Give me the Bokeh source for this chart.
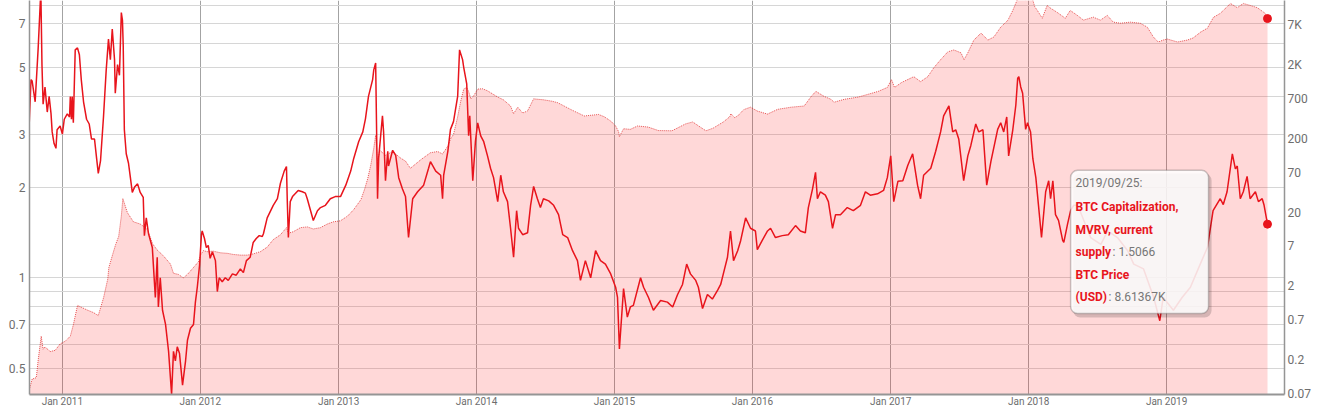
import pandas as pd
from bokeh.plotting import figure
from bokeh.models import (Range1d, LogScale, LogAxis, FixedTicker, CustomJSTickFormatter,
                          DatetimeTickFormatter, BoxAnnotation, Label, ColumnDataSource)
from bokeh.embed import file_html
from bokeh.resources import INLINE

# ---------------- data ----------------
mvrv_dates = [
    "2010-10-05", "2010-10-10", "2010-10-13", "2010-10-21", "2010-10-29", "2010-11-05", "2010-11-08",
    "2010-11-11", "2010-11-16", "2010-11-22", "2010-11-27", "2010-12-02", "2010-12-05", "2010-12-10",
    "2010-12-15", "2010-12-18", "2010-12-26",
    "2011-01-01", "2011-01-06", "2011-01-14", "2011-01-20", "2011-01-22", "2011-01-25", "2011-01-27",
    "2011-01-30", "2011-02-04", "2011-02-10", "2011-02-15", "2011-02-20", "2011-02-26", "2011-03-06",
    "2011-03-13", "2011-03-19", "2011-03-27", "2011-04-01", "2011-04-06", "2011-04-12", "2011-04-20",
    "2011-04-27", "2011-05-03", "2011-05-08", "2011-05-13", "2011-05-19", "2011-05-21", "2011-05-27",
    "2011-06-01", "2011-06-06", "2011-06-09", "2011-06-11", "2011-06-14", "2011-06-19", "2011-06-25",
    "2011-06-30", "2011-07-05", "2011-07-11", "2011-07-19", "2011-07-26", "2011-08-03", "2011-08-06",
    "2011-08-11", "2011-08-17", "2011-08-27", "2011-09-04", "2011-09-09", "2011-09-12", "2011-09-17",
    "2011-09-23", "2011-10-01", "2011-10-09", "2011-10-17", "2011-10-22", "2011-10-27", "2011-11-01",
    "2011-11-07", "2011-11-15", "2011-11-23", "2011-11-28", "2011-12-06", "2011-12-14", "2011-12-19",
    "2011-12-24", "2011-12-30",
    "2012-01-04", "2012-01-06", "2012-01-12", "2012-01-17", "2012-01-22", "2012-01-27", "2012-02-02",
    "2012-02-10", "2012-02-15", "2012-02-20", "2012-02-28", "2012-03-07", "2012-03-15", "2012-03-26",
    "2012-04-05", "2012-04-16", "2012-04-24", "2012-05-02", "2012-05-12", "2012-05-20", "2012-05-28",
    "2012-06-05", "2012-06-13", "2012-06-16", "2012-06-26", "2012-07-12", "2012-07-23", "2012-07-31",
    "2012-08-10", "2012-08-16", "2012-08-18", "2012-08-21", "2012-08-26", "2012-09-01", "2012-09-16",
    "2012-09-27", "2012-10-05", "2012-10-10", "2012-10-26", "2012-11-06", "2012-11-14", "2012-11-27",
    "2012-12-10", "2012-12-23",
    "2013-01-06", "2013-01-20", "2013-02-02", "2013-02-10", "2013-02-23", "2013-03-06", "2013-03-13",
    "2013-03-21", "2013-04-01", "2013-04-04", "2013-04-09", "2013-04-14", "2013-04-17", "2013-04-27",
    "2013-04-30", "2013-05-05", "2013-05-11", "2013-05-13", "2013-05-24", "2013-06-01", "2013-06-09",
    "2013-06-19", "2013-06-27", "2013-07-05", "2013-07-16", "2013-07-29", "2013-08-14", "2013-08-27",
    "2013-09-01", "2013-09-15", "2013-09-28", "2013-10-03", "2013-10-06", "2013-10-17", "2013-10-24",
    "2013-11-01", "2013-11-12", "2013-11-17", "2013-11-25", "2013-11-28", "2013-12-06", "2013-12-11",
    "2013-12-14", "2013-12-22", "2013-12-29",
    "2014-01-04", "2014-01-12", "2014-01-20", "2014-01-30", "2014-02-07", "2014-02-15", "2014-02-26",
    "2014-03-06", "2014-03-13", "2014-03-24", "2014-04-01", "2014-04-09", "2014-04-17", "2014-04-22",
    "2014-05-03", "2014-05-16", "2014-05-24", "2014-06-01", "2014-06-11", "2014-06-19", "2014-06-27",
    "2014-07-11", "2014-07-24", "2014-08-06", "2014-08-17", "2014-08-30", "2014-09-12", "2014-09-25",
    "2014-10-03", "2014-10-16", "2014-10-30", "2014-11-12", "2014-11-25", "2014-12-08", "2014-12-22",
    "2015-01-04", "2015-01-09", "2015-01-14", "2015-01-25", "2015-02-04", "2015-02-12", "2015-02-20",
    "2015-03-11", "2015-03-19", "2015-04-01", "2015-04-14", "2015-05-03", "2015-05-21", "2015-06-04",
    "2015-06-17", "2015-06-30", "2015-07-11", "2015-07-21", "2015-08-04", "2015-08-11", "2015-08-22",
    "2015-09-04", "2015-09-17", "2015-10-01", "2015-10-09", "2015-10-16", "2015-10-27", "2015-11-04",
    "2015-11-12", "2015-11-23", "2015-12-01", "2015-12-14", "2015-12-27",
    "2016-01-09", "2016-01-14", "2016-01-27", "2016-02-10", "2016-02-18", "2016-03-02", "2016-03-20",
    "2016-04-05", "2016-04-24", "2016-05-07", "2016-05-20", "2016-05-28", "2016-06-08", "2016-06-16",
    "2016-06-21", "2016-06-29", "2016-07-12", "2016-07-20", "2016-07-31", "2016-08-08", "2016-08-21",
    "2016-09-08", "2016-09-24", "2016-10-13", "2016-10-26", "2016-11-08", "2016-11-27", "2016-12-13",
    "2016-12-23",
    "2017-01-01", "2017-01-09", "2017-01-20", "2017-02-02", "2017-02-15", "2017-02-28", "2017-03-13",
    "2017-03-21", "2017-03-29", "2017-04-17", "2017-04-30", "2017-05-13", "2017-05-21", "2017-06-04",
    "2017-06-14", "2017-06-22", "2017-06-30", "2017-07-13", "2017-07-24", "2017-08-01", "2017-08-14",
    "2017-08-22", "2017-09-02", "2017-09-12", "2017-09-23", "2017-10-11", "2017-10-19", "2017-10-27",
    "2017-11-04", "2017-11-09", "2017-11-20", "2017-11-28", "2017-12-03", "2017-12-06", "2017-12-11",
    "2017-12-16", "2017-12-24", "2017-12-29",
    "2018-01-06", "2018-01-12", "2018-01-20", "2018-01-27", "2018-02-04", "2018-02-15", "2018-02-23",
    "2018-02-28", "2018-03-06", "2018-03-13", "2018-03-21", "2018-04-01", "2018-04-04", "2018-04-14",
    "2018-04-22", "2018-04-30", "2018-05-11", "2018-05-27", "2018-06-14", "2018-07-11", "2018-07-29",
    "2018-08-24", "2018-09-20", "2018-10-06", "2018-11-01", "2018-11-28", "2018-12-09", "2018-12-14",
    "2018-12-23",
    "2019-01-19", "2019-02-11", "2019-03-05", "2019-03-31", "2019-04-19", "2019-05-04", "2019-05-23",
    "2019-05-31", "2019-06-10", "2019-06-24", "2019-07-02", "2019-07-07", "2019-07-15", "2019-07-23",
    "2019-08-02", "2019-08-10", "2019-08-24", "2019-09-01", "2019-09-11", "2019-09-16", "2019-09-25",
]
mvrv_values = [
    3.19, 4.55, 4.5, 3.84, 5.8, 9.0, 5.1,
    3.77, 4.3, 3.55, 4.0, 3.5, 3.05, 2.79,
    2.69, 3.10, 3.19,
    3.0, 3.36, 3.5, 3.42, 4.0, 3.36, 4.0,
    3.27, 5.71, 5.8, 5.5, 4.55, 3.84, 3.36,
    3.24, 2.89, 2.89, 2.53, 2.22, 2.45, 3.45,
    4.9, 6.2, 5.3, 6.7, 5.3, 4.1, 5.1,
    4.7, 7.6, 7.15, 5.9, 3.1, 2.58, 2.4,
    2.15, 1.92, 2.0, 2.05, 1.92, 1.85, 1.38,
    1.58, 1.40, 1.26, 0.86, 1.17, 0.80, 1.0,
    0.78, 0.70, 0.57, 0.41, 0.57, 0.53, 0.59,
    0.56, 0.44, 0.53, 0.62, 0.68, 0.70, 0.83,
    0.93, 1.1,
    1.39, 1.43, 1.35, 1.26, 1.28, 1.16, 1.22,
    1.14, 0.90, 1.0, 0.97, 1.0, 0.98, 1.03,
    1.02, 1.07, 1.04, 1.14, 1.17, 1.31, 1.35,
    1.38, 1.37, 1.40, 1.58, 1.74, 1.83, 2.06,
    2.26, 2.34, 1.83, 1.36, 1.79, 1.86, 1.95,
    1.93, 1.91, 1.83, 1.55, 1.67, 1.71, 1.74,
    1.83, 1.86,
    1.86, 2.03, 2.26, 2.49, 2.83, 3.05, 3.37,
    4.0, 4.55, 4.9, 5.17, 1.83, 2.5, 3.45,
    3.05, 2.1, 2.63, 2.35, 2.65, 2.55, 2.15,
    1.97, 1.86, 1.36, 1.83, 1.93, 2.03, 2.31,
    2.43, 2.26, 2.19, 1.83, 2.19, 2.63, 3.11,
    3.3, 4.0, 5.71, 5.3, 5.0, 4.4, 2.96,
    3.45, 2.1, 2.83,
    3.27, 2.96, 2.83, 2.54, 2.31, 2.15, 1.79,
    2.19, 1.93, 1.79, 1.46, 1.17, 1.67, 1.46,
    1.39, 1.41, 1.74, 2.01, 1.83, 1.71, 1.83,
    1.80, 1.74, 1.62, 1.39, 1.36, 1.23, 1.14,
    0.98, 1.14, 1.0, 1.23, 1.14, 1.11, 1.03,
    0.93, 0.86, 0.58, 0.92, 0.74, 0.80, 0.81,
    1.0, 0.93, 0.86, 0.78, 0.84, 0.83, 0.80,
    0.88, 0.95, 1.11, 1.03, 0.98, 0.93, 0.79,
    0.88, 0.85, 0.91, 0.95, 1.03, 1.17, 1.43,
    1.14, 1.23, 1.33, 1.58, 1.46,
    1.43, 1.24, 1.33, 1.43, 1.46, 1.36, 1.38,
    1.39, 1.49, 1.43, 1.41, 1.71, 1.97, 2.24,
    1.83, 1.93, 1.88, 1.79, 1.46, 1.62, 1.62,
    1.71, 1.67, 1.74, 1.93, 1.88, 1.90, 1.95,
    2.15,
    2.54, 1.79, 2.09, 2.1, 2.36, 2.58, 2.03,
    1.83, 2.19, 2.31, 2.63, 3.05, 3.45, 3.72,
    3.05, 3.1, 2.89, 2.1, 2.54, 2.75, 3.24,
    3.05, 3.1, 2.03, 2.43, 3.11, 3.27, 3.05,
    3.42, 2.54, 3.1, 3.74, 4.6, 4.65, 4.3,
    4.1, 3.11, 3.27,
    3.05, 2.49, 2.15, 1.74, 1.36, 1.93, 2.1,
    1.83, 2.1, 1.62, 1.55, 1.33, 1.31, 1.51,
    1.67, 1.74, 1.74, 1.55, 1.36, 1.29, 1.43,
    1.36, 1.23, 1.11, 1.07, 0.86, 0.76, 0.72,
    0.86,
    0.78, 0.86, 0.93, 1.11, 1.26, 1.67, 1.83,
    1.75, 1.93, 2.58, 2.3, 2.35, 1.83, 1.93,
    2.17, 1.83, 1.93, 1.79, 1.83, 1.74, 1.5066,
]

price_dates = [
    "2010-10-07", "2010-10-13", "2010-10-24", "2010-10-29", "2010-11-06", "2010-11-11", "2010-11-16",
    "2010-11-30", "2010-12-13", "2010-12-26",
    "2011-01-09", "2011-01-22", "2011-01-30", "2011-02-10", "2011-02-18", "2011-03-08", "2011-03-24",
    "2011-04-06", "2011-04-20", "2011-05-01", "2011-05-04", "2011-05-14", "2011-05-22", "2011-05-30",
    "2011-06-06", "2011-06-10", "2011-06-22", "2011-07-08", "2011-07-26", "2011-08-13", "2011-08-28",
    "2011-09-09", "2011-09-25", "2011-10-14", "2011-10-22", "2011-11-04", "2011-11-17", "2011-11-28",
    "2011-12-14", "2011-12-27",
    "2012-01-01", "2012-01-09", "2012-01-19", "2012-02-04", "2012-02-23", "2012-03-13", "2012-03-29",
    "2012-04-16", "2012-05-05", "2012-05-20", "2012-06-08", "2012-06-26", "2012-07-12", "2012-07-31",
    "2012-08-16", "2012-08-21", "2012-09-03", "2012-09-22", "2012-10-10", "2012-10-26", "2012-11-14",
    "2012-12-02", "2012-12-18",
    "2013-01-06", "2013-01-25", "2013-02-10", "2013-03-01", "2013-03-11", "2013-03-19", "2013-03-27",
    "2013-04-04", "2013-04-09", "2013-04-14", "2013-04-20", "2013-05-05", "2013-05-24", "2013-06-14",
    "2013-06-27", "2013-07-10", "2013-08-07", "2013-09-01", "2013-09-20", "2013-10-03", "2013-10-17",
    "2013-10-24", "2013-11-01", "2013-11-12", "2013-11-20", "2013-11-28", "2013-12-06", "2013-12-11",
    "2013-12-17", "2013-12-25",
    "2014-01-04", "2014-01-17", "2014-01-30", "2014-02-12", "2014-02-26", "2014-03-13", "2014-04-01",
    "2014-04-09", "2014-04-20", "2014-05-03", "2014-05-16", "2014-05-24", "2014-06-01", "2014-06-27",
    "2014-07-20", "2014-08-04", "2014-09-08", "2014-10-13", "2014-11-20", "2014-12-05", "2014-12-22",
    "2015-01-04", "2015-01-12", "2015-01-14", "2015-01-25", "2015-02-12", "2015-03-03", "2015-03-31",
    "2015-04-27", "2015-06-02", "2015-07-08", "2015-07-27", "2015-08-15", "2015-08-31", "2015-09-19",
    "2015-10-16", "2015-11-02", "2015-11-05", "2015-11-15", "2015-11-23", "2015-12-09", "2015-12-27",
    "2016-01-14", "2016-02-10", "2016-03-08", "2016-04-13", "2016-05-17", "2016-06-05", "2016-06-17",
    "2016-07-08", "2016-07-27", "2016-08-04", "2016-08-31", "2016-10-07", "2016-11-03", "2016-11-29",
    "2016-12-23",
    "2017-01-03", "2017-01-11", "2017-01-30", "2017-02-15", "2017-03-03", "2017-03-21", "2017-04-09",
    "2017-04-25", "2017-05-13", "2017-06-01", "2017-06-17", "2017-07-06", "2017-07-14", "2017-07-24",
    "2017-08-09", "2017-08-28", "2017-09-15", "2017-10-01", "2017-10-19", "2017-11-07", "2017-11-20",
    "2017-12-03", "2017-12-14", "2017-12-24",
    "2018-01-01", "2018-01-08", "2018-01-17", "2018-01-24", "2018-02-06", "2018-02-19", "2018-02-27",
    "2018-03-18", "2018-04-08", "2018-04-21", "2018-05-10", "2018-05-26", "2018-06-21", "2018-07-10",
    "2018-07-28", "2018-08-13", "2018-09-01", "2018-09-27", "2018-10-23", "2018-11-11", "2018-11-27",
    "2018-12-10", "2018-12-23",
    "2019-01-03", "2019-01-30", "2019-02-25", "2019-03-12", "2019-04-01", "2019-04-19", "2019-05-05",
    "2019-05-23", "2019-06-19", "2019-07-07", "2019-07-23", "2019-08-10", "2019-08-29", "2019-09-19",
    "2019-09-25",
]
price_values = [
    0.084, 0.11, 0.115, 0.2, 0.42, 0.28, 0.3,
    0.26, 0.27, 0.33,
    0.36, 0.42, 0.6, 1.1, 1.05, 0.95, 0.88,
    0.8, 1.4, 2.5, 3.6, 5.4, 7.4, 9.5,
    18, 31, 20, 15, 14, 12, 7.5,
    6.2, 5.2, 4.0, 3.0, 2.9, 2.6, 2.9,
    3.6, 4.3,
    5.2, 6.1, 5.9, 6.0, 5.7, 5.6, 5.4,
    5.3, 5.3, 5.5, 5.9, 6.8, 8.6, 10.0,
    12.5, 10.5, 11.0, 12.5, 12.8, 12.0, 12.5,
    14.0, 15.0,
    15.5, 18, 22, 30, 42, 58, 88,
    150, 225, 100, 140, 120, 135, 110,
    100, 80, 105, 130, 135, 125, 160,
    200, 230, 400, 650, 950, 1000, 880,
    700, 780,
    950, 960, 900, 820, 740, 680, 560,
    440, 540, 450, 480, 580, 700, 680,
    650, 620, 500, 410, 430, 400, 350,
    300, 250, 215, 275, 270, 300, 290,
    260, 258, 320, 340, 292, 258, 280,
    340, 400, 440, 390, 410, 500, 540,
    478, 435, 505, 540, 560, 760, 885,
    760, 690, 630, 690, 740, 810, 885,
    1000,
    1280, 1000, 1170, 1280, 1400, 1200, 1400,
    1850, 2380, 3040, 3230, 2950, 2380, 2950,
    4400, 5470, 4400, 4840, 6580, 8170, 11100,
    16000, 19000, 15500,
    16500, 18000, 12500, 11100, 8700, 13000, 12000,
    10400, 8700, 11100, 9500, 8200, 9000, 8200,
    9500, 7700, 7450, 7700, 7450, 6580, 4840,
    4140, 4400,
    4540, 4140, 4400, 4690, 5640, 6380, 8960,
    10130, 13800, 12100, 13800, 13000, 12100, 10130,
    8613.67,
]

mvrv_ticks = [0.5, 0.7, 1, 2, 3, 5, 7]
mvrv_grid = [0.5, 0.6, 0.7, 0.8, 0.9, 1, 2, 3, 4, 5, 6, 7, 8]
price_ticks = [0.07, 0.2, 0.7, 2, 7, 20, 70, 200, 700, 2000, 7000]
year_ticks = ["2011-01-01", "2012-01-01", "2013-01-01", "2014-01-01", "2015-01-01",
              "2016-01-01", "2017-01-01", "2018-01-01", "2019-01-01"]

tip_date = "2019/09/25:"
tip_series1 = ["BTC Capitalization,", "MVRV, current", "supply"]
tip_value1 = ": 1.5066"
tip_series2 = ["BTC Price", "(USD)"]
tip_value2 = ": 8.61367K"

# ---------------- figure ----------------
def ms(s):
    return pd.Timestamp(s).value / 1e6

RED = "#e8141c"
FONT = "Roboto"

mvrv_src = ColumnDataSource(dict(date=pd.to_datetime(mvrv_dates), v=mvrv_values))
price_src = ColumnDataSource(dict(date=pd.to_datetime(price_dates), v=price_values))

p = figure(width=1314, height=409, x_axis_type="datetime", y_axis_type="log",
           x_range=Range1d(ms("2010-10-06"), ms("2019-11-09")),
           y_range=Range1d(0.4096, 8.33),
           output_backend="svg", toolbar_location=None,
           min_border_left=29, min_border_right=30, min_border_top=0, min_border_bottom=0,
           background_fill_color="white", border_fill_color="white")
p.outline_line_color = None

p.extra_y_ranges = {"price": Range1d(0.0679, 15150)}
p.extra_y_scales = {"price": LogScale()}

# grids
p.xgrid.ticker = FixedTicker(ticks=[ms(d) for d in year_ticks])
p.xgrid.grid_line_color = "#a3a3a3"
p.xgrid.grid_line_width = 1
p.ygrid.ticker = FixedTicker(ticks=mvrv_grid)
p.ygrid.grid_line_color = "#d6d6d6"
p.ygrid.grid_line_width = 1

# left axis
la = p.yaxis[0]
la.ticker = FixedTicker(ticks=mvrv_ticks, minor_ticks=[])
la.formatter = CustomJSTickFormatter(code="return String(tick);")

# right axis
ra = LogAxis(y_range_name="price", ticker=FixedTicker(ticks=price_ticks, minor_ticks=[]),
             formatter=CustomJSTickFormatter(
                 code="return tick >= 1000 ? String(tick / 1000) + 'K' : String(tick);"))
p.add_layout(ra, "right")

for ax, so in ((la, 4), (ra, 3)):
    ax.axis_line_color = "#959595"
    ax.axis_line_width = 1.5
    ax.major_tick_out = 0
    ax.major_tick_in = 0
    ax.minor_tick_out = 0
    ax.minor_tick_in = 0
    ax.major_label_standoff = so
    ax.major_label_text_font = FONT
    ax.major_label_text_font_size = "12px"
    ax.major_label_text_color = "#6e6e6e"

xa = p.xaxis[0]
xa.ticker = FixedTicker(ticks=[ms(d) for d in year_ticks], minor_ticks=[])
fmt = "%b %Y"
xa.formatter = DatetimeTickFormatter(years=fmt, months=fmt, days=fmt, hours=fmt, hourmin=fmt,
                                     minutes=fmt, minsec=fmt, seconds=fmt, milliseconds=fmt,
                                     microseconds=fmt)
xa.axis_line_color = "#959595"
xa.axis_line_width = 2
xa.major_tick_out = 0
xa.major_tick_in = 0
xa.minor_tick_out = 0
xa.minor_tick_in = 0
xa.major_label_standoff = 1
xa.major_label_text_font = FONT
xa.major_label_text_font_size = "10px"
xa.major_label_text_color = "#6e6e6e"

# price area (right axis)
p.varea(x="date", y1=0.001, y2="v", source=price_src, y_range_name="price",
        fill_color="#ff1a1a", fill_alpha=0.17)
p.line(x="date", y="v", source=price_src, y_range_name="price",
       line_color="#dd2222", line_alpha=0.75, line_width=1, line_dash="1 1")

# MVRV line
p.line(x="date", y="v", source=mvrv_src, line_color=RED, line_width=1.5)

# end markers
p.scatter(x=[pd.Timestamp(mvrv_dates[-1])], y=[mvrv_values[-1]], size=8,
          fill_color=RED, line_color=RED)
p.scatter(x=[pd.Timestamp(price_dates[-1])], y=[price_values[-1]], size=8,
          fill_color=RED, line_color=RED, y_range_name="price")

# tooltip (annotation)
shadow = BoxAnnotation(left=ms("2018-04-29"), right=ms("2019-04-30"), top=2.22, bottom=0.738,
                       fill_color="black", fill_alpha=0.16, line_color=None, border_radius=7,
                       level="overlay")
box = BoxAnnotation(left=ms("2018-04-22"), right=ms("2019-04-22"), top=2.273, bottom=0.761,
                    fill_color="white", fill_alpha=0.86, line_color="#4d4d4d", line_width=1.5,
                    border_radius=7, level="overlay")
p.add_layout(shadow)
p.add_layout(box)

tx = ms("2018-05-05")
line_y = [2.060, 1.719, 1.445, 1.215, 1.021, 0.865]
p.add_layout(Label(x=tx, y=line_y[0], text=tip_date, text_font=FONT, text_font_size="12px",
                   text_color="#777777", text_baseline="middle", level="overlay"))
for i, t in enumerate(tip_series1):
    p.add_layout(Label(x=tx, y=line_y[1 + i], text=t, text_font=FONT, text_font_size="12px",
                       text_font_style="bold", text_color=RED, text_baseline="middle",
                       level="overlay"))
p.add_layout(Label(x=tx, y=line_y[3], x_offset=37, text=tip_value1, text_font=FONT,
                   text_font_size="12px", text_color="#777777", text_baseline="middle",
                   level="overlay"))
for i, t in enumerate(tip_series2):
    p.add_layout(Label(x=tx, y=line_y[4 + i], text=t, text_font=FONT, text_font_size="12px",
                       text_font_style="bold", text_color=RED, text_baseline="middle",
                       level="overlay"))
p.add_layout(Label(x=tx, y=line_y[5], x_offset=33, text=tip_value2, text_font=FONT,
                   text_font_size="12px", text_color="#777777", text_baseline="middle",
                   level="overlay"))

open("out.html", "w").write(file_html(p, INLINE))
